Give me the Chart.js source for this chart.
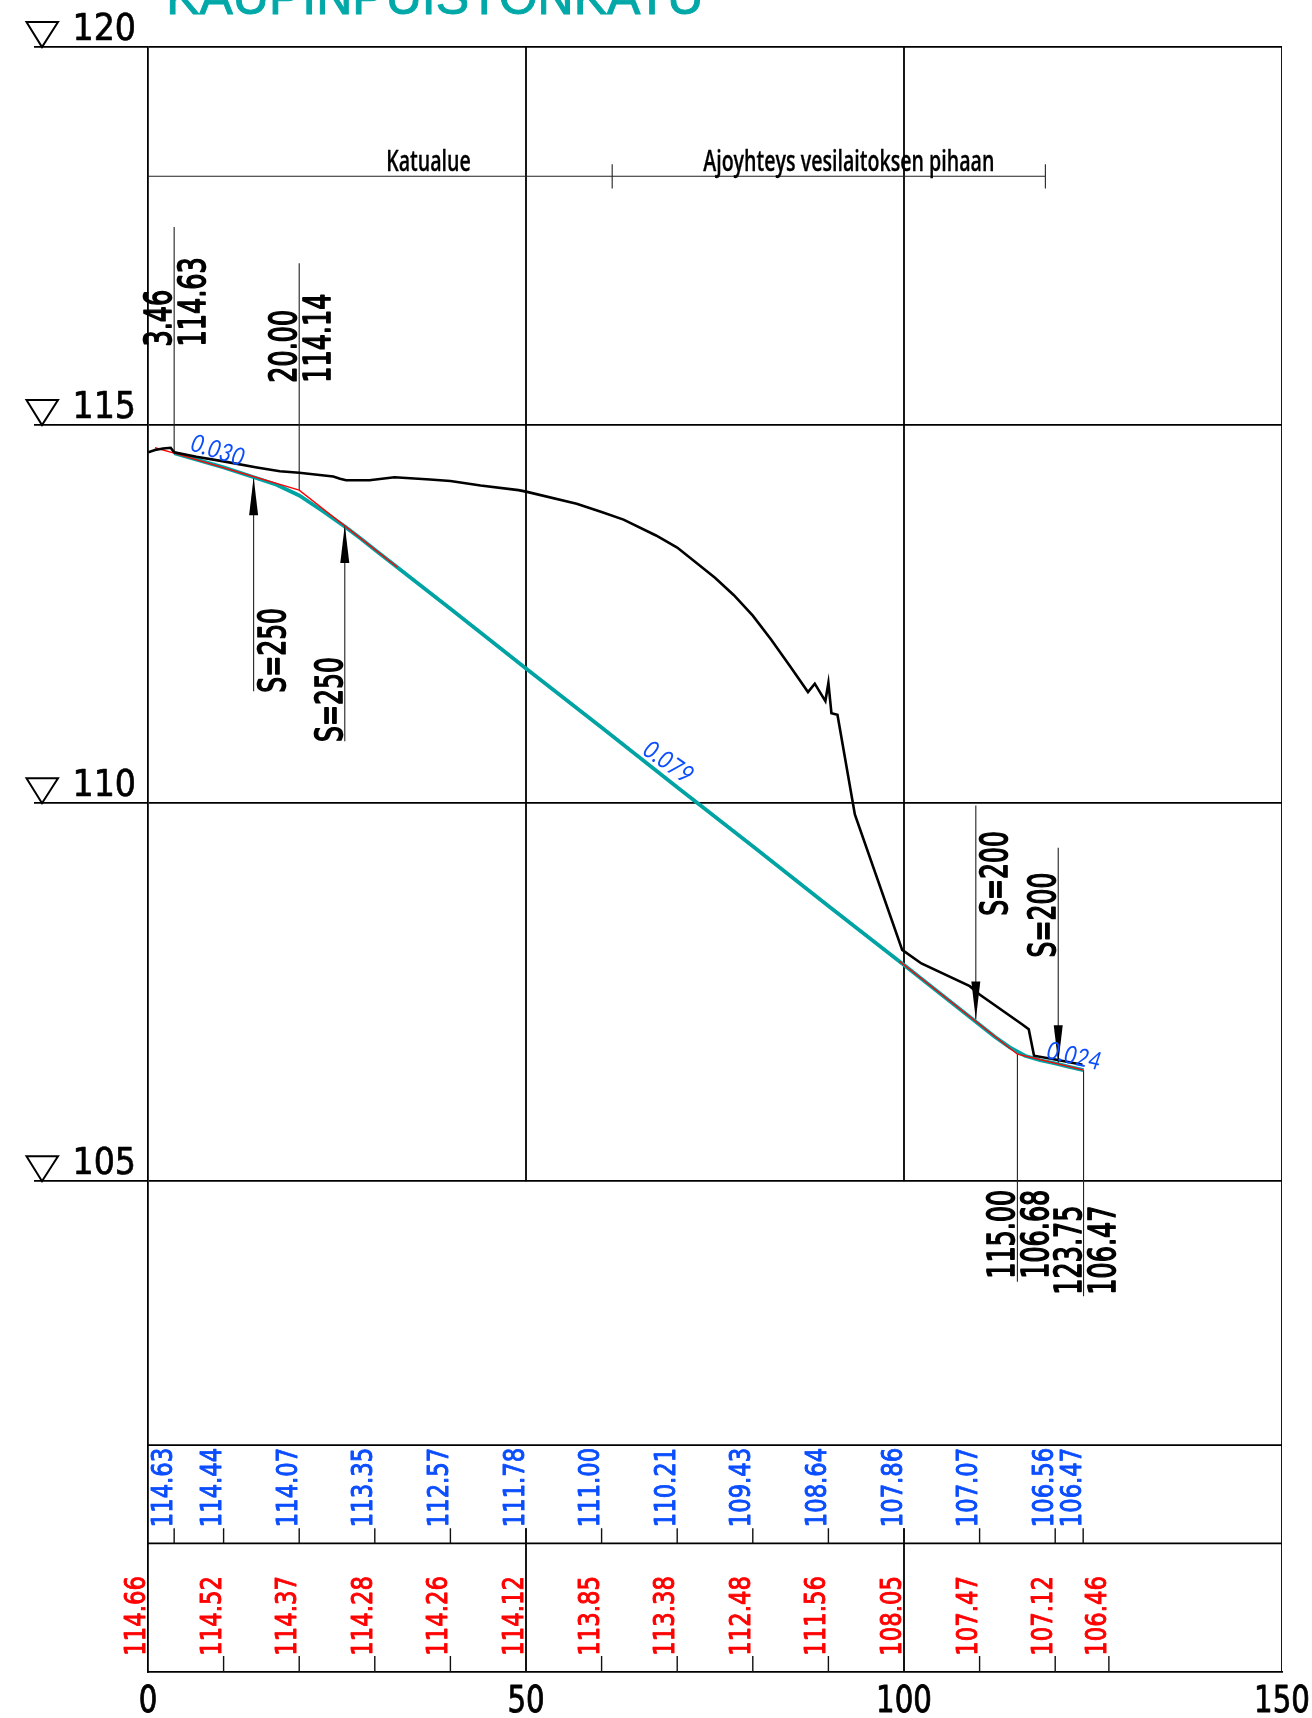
<!DOCTYPE html>
<html>
<head>
<meta charset="utf-8">
<title>Kaupinpuistonkatu</title>
<script src="https://cdn.jsdelivr.net/npm/chart.js@4"></script>
<style>
  html, body { margin: 0; padding: 0; background: #fff; }
  canvas { display: block; }
</style>
</head>
<body>
<canvas id="profile" width="1312" height="1718"></canvas>
<script>
const chartTitle = "KAUPINPUISTONKATU";

// axes
const xTicks = [0, 50, 100, 150];
const yTicks = [105, 110, 115, 120];
const yMin = 98.51;
const yMax = 120;

// existing ground (black)
const groundX = [0.04, 0.93, 2, 3, 3.46, 6.4, 10, 14.4, 17.45, 20, 24.5, 25.4, 26.2, 29.3, 32.6, 37.3, 40, 44, 49, 50, 56.7, 60, 62.9, 67.2, 70, 75, 77.5, 80, 82.44, 85, 87.3, 88.2, 89.6, 90, 90.4, 91.2, 93.5, 99.76, 102.3, 108.7, 110, 115.7, 116.5, 117.2, 120, 123.6];
const groundY = [114.64, 114.67, 114.69, 114.7, 114.64, 114.58, 114.52, 114.44, 114.39, 114.37, 114.32, 114.29, 114.27, 114.27, 114.31, 114.28, 114.26, 114.2, 114.14, 114.12, 113.96, 113.85, 113.75, 113.54, 113.38, 112.98, 112.75, 112.48, 112.16, 111.8, 111.47, 111.58, 111.35, 111.59, 111.19, 111.17, 109.85, 108.06, 107.88, 107.58, 107.47, 107.07, 107.01, 106.66, 106.61, 106.54];

// design line with rounded vertical curves (teal)
const designX = [3.46, 10, 14, 17, 20, 23, 26, 28, 30, 40, 50, 60, 70, 80, 90, 100, 110, 112, 114, 116, 118, 120, 122, 123.75];
const designY = [114.63, 114.44, 114.31, 114.21, 114.07, 113.87, 113.66, 113.51, 113.35, 112.57, 111.78, 111, 110.21, 109.43, 108.64, 107.86, 107.07, 106.91, 106.77, 106.66, 106.6, 106.56, 106.51, 106.47];

// tangent polygon (red), only visible near the ends
const tangentX = [0.93, 3.46, 20, 33, null, 99.4, 115, 123.75];
const tangentY = [114.7, 114.63, 114.14, 113.12, null, 107.91, 106.68, 106.47];

// table rows
const blueStations = [3.46, 10, 20, 30, 40, 50, 60, 70, 80, 90, 100, 110, 120, 123.7];
const blueLabels = ["114.63", "114.44", "114.07", "113.35", "112.57", "111.78", "111.00", "110.21", "109.43", "108.64", "107.86", "107.07", "106.56", "106.47"];
const redStations = [0, 10, 20, 30, 40, 50, 60, 70, 80, 90, 100, 110, 120, 127.1];
const redLabels = ["114.66", "114.52", "114.37", "114.28", "114.26", "114.12", "113.85", "113.38", "112.48", "111.56", "108.05", "107.47", "107.12", "106.46"];
const rowTops = [101.51, 100.21];
const blueTickTop = 100.41;
const redTickTop = 98.72;

// break point call-outs
const leaderX = [3.46, 20, 115, 123.75];
const leaderFrom = [117.62, 117.14, 106.68, 106.47];
const leaderTo = [114.64, 114.14, 103.67, 103.48];
const leaderStation = ["3.46", "20.00", "115.00", "123.75"];
const leaderLevel = ["114.63", "114.14", "106.68", "106.47"];
const leaderTextY = [116.04, 115.56, 103.71, 103.5];

// curve radius arrows
const arrowX = [13.97, 26.03, 109.5, 120.4];
const arrowTip = [114.31, 113.68, 107.14, 106.56];
const arrowEnd = [111.48, 110.82, 109.97, 109.41];
const arrowLabels = ["S=250", "S=250", "S=200", "S=200"];
const arrowTextY = [111.46, 110.81, 108.51, 107.96];
const arrowTextSide = [1, -1, 1, -1];

// section band at the top
const sectionY = 118.29;
const sectionEnds = [0, 118.7];
const sectionMarks = [61.4, 118.7];
const sectionLabels = ["Katualue", "Ajoyhteys vesilaitoksen pihaan"];
const sectionLabelX = [37.1, 92.7];

// gradients
const slopeLabels = ["0.030", "0.079", "0.024"];
const slopeX = [5.42, 65.2, 118.7];
const slopeY = [114.67, 110.66, 106.63];
const slopeAngle = [17.5, 35, 13];

function segments(list) {
  const pts = [];
  list.forEach(s => {
    pts.push({ x: s[0], y: s[1] }, { x: s[2], y: s[3] }, { x: null, y: null });
  });
  return pts;
}

function toPoints(xs, ys) {
  return xs.map((x, i) => ({ x: x, y: ys[i] }));
}

// frame lines that the axes do not give us
const frameSegs = [[xTicks[3], yMax, xTicks[3], yMin]];
[xTicks[1], xTicks[2]].forEach(x => {
  frameSegs.push([x, yMax, x, yTicks[0]]);
  frameSegs.push([x, blueTickTop, x, yMin]);
});
rowTops.forEach(y => frameSegs.push([xTicks[0], y, xTicks[3], y]));

const tickSegs = [];
blueStations.forEach(x => tickSegs.push([x, blueTickTop, x, rowTops[1]]));
redStations.slice(1).forEach(x => tickSegs.push([x, redTickTop, x, yMin]));

const thinSegs = [[sectionEnds[0], sectionY, sectionEnds[1], sectionY]];
sectionMarks.forEach(x => thinSegs.push([x, 118.45, x, 118.13]));
leaderX.forEach((x, i) => thinSegs.push([x, leaderFrom[i], x, leaderTo[i]]));
arrowX.forEach((x, i) => thinSegs.push([x, arrowTip[i], x, arrowEnd[i]]));

// text is squeezed along its run, the sheet was rescaled unevenly
function squeezed(ctx, text, x, y, angle, font, color, sx, align, heavy) {
  ctx.save();
  ctx.font = font;
  ctx.fillStyle = color;
  ctx.textAlign = align || "left";
  ctx.textBaseline = "alphabetic";
  ctx.translate(x, y);
  ctx.rotate(angle);
  ctx.scale(sx, 1);
  if (heavy) {
    ctx.strokeStyle = color;
    ctx.lineWidth = heavy;
    ctx.lineJoin = "round";
    ctx.strokeText(text, 0, 0);
  }
  ctx.fillText(text, 0, 0);
  ctx.restore();
}

const up = -Math.PI / 2;
const drawingText = {
  id: "drawingText",
  afterDatasetsDraw(chart) {
    const ctx = chart.ctx;
    const sx = chart.scales.x;
    const sy = chart.scales.y;
    const black = "38px 'DejaVu Sans'";

    // title, cut off by the page edge like in the original sheet
    squeezed(ctx, chartTitle, sx.getPixelForValue(2.4), 13.5, 0, "50px 'Liberation Sans'", "#00a8a8", 1, "left", 1);

    // level marks on the left
    yTicks.forEach(v => {
      const py = sy.getPixelForValue(v);
      ctx.save();
      ctx.strokeStyle = "#000";
      ctx.lineWidth = 2;
      ctx.beginPath();
      ctx.moveTo(26.5, py - 25);
      ctx.lineTo(58, py - 25);
      ctx.lineTo(42, py);
      ctx.closePath();
      ctx.stroke();
      ctx.restore();
      squeezed(ctx, String(v), 72.5, py - 7, 0, "37px 'DejaVu Sans'", "#000", 0.9, "left", 0.7);
    });

    xTicks.forEach(v => {
      squeezed(ctx, String(v), sx.getPixelForValue(v), 1711.5, 0, "38px 'DejaVu Sans'", "#000", 0.77, "center", 0.9);
    });

    // section band
    sectionLabels.forEach((t, i) => {
      squeezed(ctx, t, sx.getPixelForValue(sectionLabelX[i]), 171, 0, "600 28px 'Open Sans'", "#000", 0.7, "center", 0.3);
    });

    // table rows
    blueLabels.forEach((t, i) => {
      squeezed(ctx, t, sx.getPixelForValue(blueStations[i]) - 2.5, 1527.3, up, "28.8px 'DejaVu Sans'", "#0a4dff", 0.79, "left", 1);
    });
    redLabels.forEach((t, i) => {
      squeezed(ctx, t, sx.getPixelForValue(redStations[i]) - 3, 1655.7, up, "28.8px 'DejaVu Sans'", "#ff0000", 0.79, "left", 1);
    });

    // break points
    leaderX.forEach((x, i) => {
      const px = sx.getPixelForValue(x);
      const py = sy.getPixelForValue(leaderTextY[i]);
      squeezed(ctx, leaderStation[i], px - 3, py, up, black, "#000", 0.67, "left", 1.7);
      squeezed(ctx, leaderLevel[i], px + 31, py, up, black, "#000", 0.67, "left", 1.7);
    });

    // arrows and radii
    arrowX.forEach((x, i) => {
      const px = sx.getPixelForValue(x);
      const tip = sy.getPixelForValue(arrowTip[i]);
      const dir = arrowEnd[i] < arrowTip[i] ? 1 : -1;
      ctx.save();
      ctx.fillStyle = "#000";
      ctx.beginPath();
      ctx.moveTo(px, tip);
      ctx.lineTo(px - 4.5, tip + dir * 38);
      ctx.lineTo(px + 4.5, tip + dir * 38);
      ctx.closePath();
      ctx.fill();
      ctx.restore();
      const tx = arrowTextSide[i] > 0 ? px + 31 : px - 3;
      squeezed(ctx, arrowLabels[i], tx, sy.getPixelForValue(arrowTextY[i]), up, black, "#000", 0.66, "left", 1.7);
    });

    // gradients, thin hand-lettered look
    slopeLabels.forEach((t, i) => {
      squeezed(ctx, t, sx.getPixelForValue(slopeX[i]), sy.getPixelForValue(slopeY[i]), slopeAngle[i] * Math.PI / 180, "italic 400 25px Lato", "#0a4dff", 0.86);
    });
  }
};

new Chart(document.getElementById("profile"), {
  type: "scatter",
  data: {
    datasets: [
      { label: "frame", data: segments(frameSegs), borderColor: "#000", borderWidth: 1.8, order: 6 },
      { label: "ticks", data: segments(tickSegs), borderColor: "#111", borderWidth: 1.4, order: 5 },
      { label: "thin", data: segments(thinSegs), borderColor: "#222", borderWidth: 1.1, order: 4 },
      { label: "design", data: toPoints(designX, designY), borderColor: "#00a3a3", borderWidth: 3.8, order: 3 },
      { label: "tangent", data: toPoints(tangentX, tangentY), borderColor: "#ff0000", borderWidth: 1.4, order: 2 },
      { label: "ground", data: toPoints(groundX, groundY), borderColor: "#000", borderWidth: 2.6, order: 1 }
    ].map(d => Object.assign(d, { showLine: true, pointRadius: 0, spanGaps: false, fill: false, tension: 0 }))
  },
  options: {
    responsive: false,
    animation: false,
    devicePixelRatio: 1,
    layout: { padding: { left: 0, top: 47, right: 30, bottom: 0 } },
    plugins: { legend: { display: false }, tooltip: { enabled: false }, title: { display: false } },
    scales: {
      x: {
        type: "linear",
        min: xTicks[0],
        max: xTicks[3],
        afterFit: s => { s.height = 46; },
        afterBuildTicks: s => { s.ticks = xTicks.map(v => ({ value: v })); },
        grid: { display: false },
        border: { color: "#000", width: 1.8 },
        ticks: { display: false }
      },
      y: {
        type: "linear",
        min: yMin,
        max: yMax,
        afterFit: s => { s.width = 148; },
        afterBuildTicks: s => { s.ticks = yTicks.map(v => ({ value: v })); },
        grid: { color: "#000", lineWidth: 1.8, tickLength: 114, drawTicks: true },
        border: { color: "#000", width: 1.8 },
        ticks: { display: false }
      }
    }
  },
  plugins: [drawingText]
});
</script>
</body>
</html>
